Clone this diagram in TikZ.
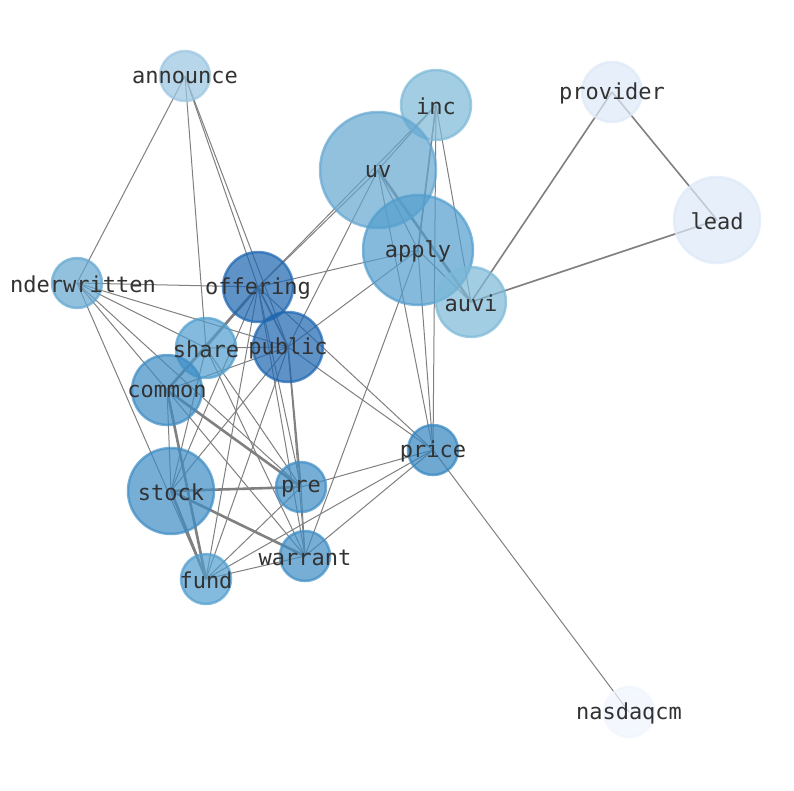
\documentclass[tikz,border=0pt]{standalone}
\usepackage{fontspec}
\setmonofont{DejaVu Sans Mono}
\definecolor{cOff}{RGB}{28,102,176}
\definecolor{cDark}{RGB}{50,133,192}
\definecolor{cStk}{RGB}{62,140,196}
\definecolor{cMid}{RGB}{80,158,207}
\definecolor{cApp}{RGB}{82,158,206}
\definecolor{cUv}{RGB}{100,167,209}
\definecolor{cInc}{RGB}{124,185,216}
\definecolor{cAnn}{RGB}{155,198,226}
\definecolor{cPale}{RGB}{222,234,248}
\definecolor{cPaler}{RGB}{240,246,254}
\definecolor{edgegray}{RGB}{128,128,128}
\definecolor{lbl}{RGB}{50,50,50}
\begin{document}
\begin{tikzpicture}[x=1pt,y=-1pt,
  ed/.style={draw=edgegray,line width=1pt},
  edm/.style={draw=edgegray,line width=1.6pt},
  edt/.style={draw=edgegray,line width=2.6pt},
  bub/.style={circle,inner sep=0pt,line width=2.5pt,fill opacity=0.7,draw opacity=0.7},
  lab/.style={font=\ttfamily\fontsize{22}{22}\selectfont,text=lbl,inner sep=0pt,anchor=center,yshift=-1.5pt}]
\clip (0,0) rectangle (794,790);
\fill[white] (0,0) rectangle (794,790);
% positions
\coordinate (announce) at (185,76);
\coordinate (inc) at (436,105);
\coordinate (provider) at (612,92);
\coordinate (uv) at (378,170);
\coordinate (lead) at (717,220);
\coordinate (apply) at (418,250);
\coordinate (auvi) at (471,302);
\coordinate (underwritten) at (77,283);
\coordinate (offering) at (258,287);
\coordinate (public) at (288,347);
\coordinate (share) at (206,348);
\coordinate (common) at (167,390);
\coordinate (price) at (433,450);
\coordinate (stock) at (171,491);
\coordinate (pre) at (301,487);
\coordinate (warrant) at (305,556);
\coordinate (fund) at (206,579);
\coordinate (nasdaqcm) at (629,712);
% edges
\foreach \a/\b in {announce/underwritten,announce/offering,announce/public,announce/share,
  underwritten/offering,underwritten/share,underwritten/public,underwritten/common,underwritten/fund,underwritten/pre,
  offering/uv,offering/inc,offering/apply,offering/share,offering/stock,offering/pre,offering/warrant,offering/fund,offering/price,
  public/apply,public/uv,public/share,public/common,public/stock,public/warrant,public/fund,public/price,
  uv/inc,uv/apply,uv/price,inc/apply,inc/auvi,inc/price,apply/auvi,apply/price,apply/warrant,
  price/nasdaqcm,price/pre,price/fund,price/warrant,
  share/common,share/pre,share/warrant,common/stock,common/warrant,stock/share,
  pre/warrant,pre/fund,warrant/fund}
  \draw[ed] (\a) -- (\b);
\foreach \a/\b in {auvi/provider,auvi/lead,provider/lead,offering/public,public/pre,inc/apply}
  \draw[edm] (\a) -- (\b);
\foreach \a/\b in {common/offering,common/pre,stock/pre,stock/warrant,stock/fund,common/fund,uv/auvi}
  \draw[edt] (\a) -- (\b);
% nodes
\node[bub,minimum size=50pt,fill=cAnn,draw=cAnn] (n-announce) at (announce) {};
\node[bub,minimum size=70pt,fill=cInc,draw=cInc] (n-inc) at (inc) {};
\node[bub,minimum size=60pt,fill=cPale,draw=cPale] (n-provider) at (provider) {};
\node[bub,minimum size=116pt,fill=cUv,draw=cUv] (n-uv) at (uv) {};
\node[bub,minimum size=86pt,fill=cPale,draw=cPale] (n-lead) at (lead) {};
\node[bub,minimum size=110pt,fill=cApp,draw=cApp] (n-apply) at (apply) {};
\node[bub,minimum size=70pt,fill=cInc,draw=cInc] (n-auvi) at (auvi) {};
\node[bub,minimum size=50pt,fill=cUv,draw=cUv] (n-underwritten) at (underwritten) {};
\node[bub,minimum size=70pt,fill=cOff,draw=cOff] (n-offering) at (offering) {};
\node[bub,minimum size=70pt,fill=cOff,draw=cOff] (n-public) at (public) {};
\node[bub,minimum size=60pt,fill=cMid,draw=cMid] (n-share) at (share) {};
\node[bub,minimum size=70pt,fill=cStk,draw=cStk] (n-common) at (common) {};
\node[bub,minimum size=50pt,fill=cDark,draw=cDark] (n-price) at (price) {};
\node[bub,minimum size=86pt,fill=cStk,draw=cStk] (n-stock) at (stock) {};
\node[bub,minimum size=50pt,fill=cStk,draw=cStk] (n-pre) at (pre) {};
\node[bub,minimum size=50pt,fill=cStk,draw=cStk] (n-warrant) at (warrant) {};
\node[bub,minimum size=50pt,fill=cMid,draw=cMid] (n-fund) at (fund) {};
\node[bub,minimum size=50pt,fill=cPaler,draw=cPaler] (n-nasdaqcm) at (nasdaqcm) {};
% labels
\node[lab] (l-announce) at (announce) {announce};
\node[lab] (l-inc) at (inc) {inc};
\node[lab] (l-provider) at (provider) {provider};
\node[lab] (l-uv) at (uv) {uv};
\node[lab] (l-lead) at (lead) {lead};
\node[lab] (l-apply) at (apply) {apply};
\node[lab] (l-auvi) at (auvi) {auvi};
\node[lab] (l-underwritten) at (83,283) {nderwritten};
\node[lab] (l-offering) at (offering) {offering};
\node[lab] (l-public) at (public) {public};
\node[lab] (l-share) at (share) {share};
\node[lab] (l-common) at (common) {common};
\node[lab] (l-price) at (price) {price};
\node[lab] (l-stock) at (stock) {stock};
\node[lab] (l-pre) at (pre) {pre};
\node[lab] (l-warrant) at (warrant) {warrant};
\node[lab] (l-fund) at (fund) {fund};
\node[lab] (l-nasdaqcm) at (nasdaqcm) {nasdaqcm};
\end{tikzpicture}
\end{document}
